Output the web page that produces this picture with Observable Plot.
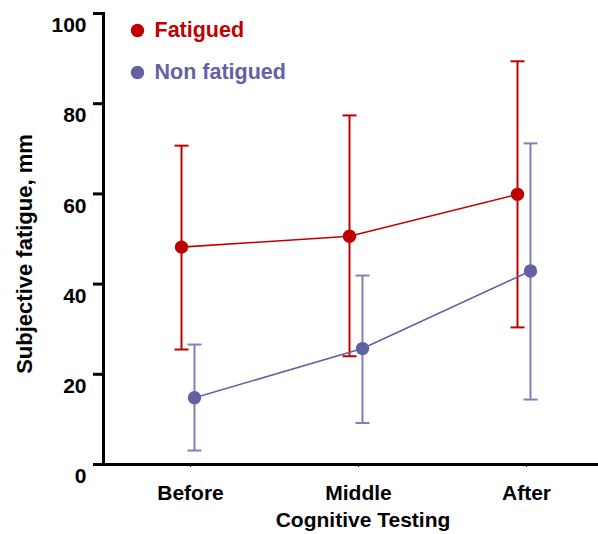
<!DOCTYPE html>
<html>
<head>
<meta charset="utf-8">
<script src="https://cdn.jsdelivr.net/npm/d3@7"></script>
<script src="https://cdn.jsdelivr.net/npm/@observablehq/plot@0.6"></script>
<style>
  html, body { margin: 0; padding: 0; background: #fff; }
  svg { font-family: "Liberation Sans", Arial, sans-serif; font-weight: bold; }
</style>
</head>
<body>
<div id="chart"></div>
<script>
const phases = ["Before", "Middle", "After"];
const seriesNames = ["Fatigued", "Non fatigued"];
const fatiguedMean = [48.2, 50.6, 59.9];
const fatiguedLow = [25.5, 24.0, 30.4];
const fatiguedHigh = [70.7, 77.4, 89.4];
const nonMean = [14.8, 25.7, 42.9];
const nonLow = [3.1, 9.2, 14.4];
const nonHigh = [26.6, 41.9, 71.2];
const yTicks = [0, 20, 40, 60, 80, 100];
const xTitle = "Cognitive Testing";
const yTitle = "Subjective fatigue, mm";

const red = "#c00000";
const blue = "#6161a3";
const blueBar = "#8080b9";

const fat = phases.map((p, i) => ({phase: p, mean: fatiguedMean[i], lo: fatiguedLow[i], hi: fatiguedHigh[i]}));
const non = phases.map((p, i) => ({phase: p, mean: nonMean[i], lo: nonLow[i], hi: nonHigh[i]}));

// horizontal cap symbol for error bars
const capSymbol = {draw(ctx) { ctx.moveTo(-7, 0); ctx.lineTo(7, 0); }};

function seriesMarks(data, color, barColor, off) {
  return [
    Plot.ruleX(data, {x: "phase", y1: "lo", y2: "hi", stroke: barColor, strokeWidth: 2, dx: off}),
    Plot.dot(data, {x: "phase", y: "lo", symbol: capSymbol, fill: "none", stroke: barColor, strokeWidth: 2, dx: off}),
    Plot.dot(data, {x: "phase", y: "hi", symbol: capSymbol, fill: "none", stroke: barColor, strokeWidth: 2, dx: off}),
    Plot.line(data, {x: "phase", y: "mean", stroke: color, strokeWidth: 1.6, dx: off}),
    Plot.dot(data, {x: "phase", y: "mean", fill: color, r: 6.7, dx: off})
  ];
}

const chart = Plot.plot({
  width: 598,
  height: 534,
  marginLeft: 103,
  marginRight: 0,
  marginTop: 13,
  marginBottom: 70,
  style: {fontSize: "21px", fontFamily: "Liberation Sans, Arial, sans-serif", fontWeight: "bold", color: "#000", background: "#fff"},
  x: {type: "point", domain: phases, padding: 0.473, align: 0.535, label: null},
  y: {domain: [0, 100], ticks: yTicks, label: null},
  marks: [
    Plot.axisY({ticks: yTicks, tickSize: 10, strokeWidth: 3, tickFormat: () => "", label: null}),
    Plot.axisY({ticks: yTicks, tickSize: 0, tickPadding: 17, dy: 12, label: null, fontSize: 21}),
    Plot.axisX({tickSize: 3, tickPadding: 18, strokeWidth: 1, label: null, fontSize: 21, dx: 2}),
    Plot.text([yTitle], {frameAnchor: "left", textAnchor: "middle", lineAnchor: "middle", dx: -79, dy: 15, rotate: -90, fontSize: 22, fontWeight: "bold"}),
    Plot.text([xTitle], {frameAnchor: "bottom", lineAnchor: "middle", dy: 56, dx: 12, fontSize: 21, fontWeight: "bold"}),
    Plot.frame({anchor: "left", strokeWidth: 3}),
    Plot.ruleY([0], {strokeWidth: 3}),
    ...seriesMarks(fat, red, red, -7),
    ...seriesMarks(non, blue, blueBar, 6),
    Plot.dot([seriesNames[0]], {frameAnchor: "top-left", dx: 34, dy: 17, r: 6.7, fill: red}),
    Plot.text([seriesNames[0]], {frameAnchor: "top-left", dx: 51, dy: 17, text: d => d, textAnchor: "start", lineAnchor: "middle", fill: red, fontSize: 21.5, fontWeight: "bold"}),
    Plot.dot([seriesNames[1]], {frameAnchor: "top-left", dx: 34, dy: 59, r: 6.7, fill: blue}),
    Plot.text([seriesNames[1]], {frameAnchor: "top-left", dx: 51, dy: 59, text: d => d, textAnchor: "start", lineAnchor: "middle", fill: blue, fontSize: 21.5, fontWeight: "bold"})
  ]
});
document.getElementById("chart").append(chart);
</script>
</body>
</html>
